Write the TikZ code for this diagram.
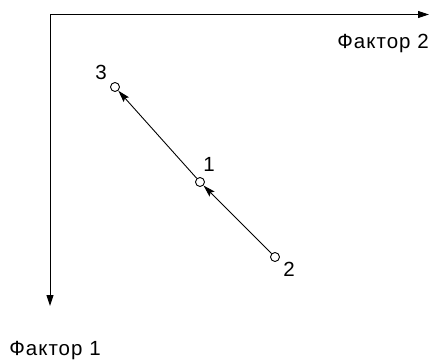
\documentclass[tikz,border=0pt]{standalone}
\usepackage{fontspec}
\setmainfont{Liberation Sans}
\newfontfamily\widefont[LetterSpace=5]{Liberation Sans}
\usetikzlibrary{arrows.meta}
\begin{document}
\begin{tikzpicture}[x=1pt,y=-1pt,
  pt/.style={circle,draw,line width=0.9pt,inner sep=0pt,minimum size=9pt},
  lbl/.style={font=\fontsize{20.5}{24}\selectfont,inner sep=0pt},
  axlbl/.style={font=\widefont\fontsize{20.5}{24}\selectfont,inner sep=0pt},
  axis/.style={line width=1pt,-{Triangle[length=11pt,width=7pt]}},
  con/.style={line width=0.9pt,-{Stealth[length=12pt,width=7pt,inset=2pt]}}]
\useasboundingbox (0,0) rectangle (431,361);
\coordinate (o) at (50,14.5);
\coordinate (xe) at (429,14.5);
\coordinate (ye) at (50,306);
\draw[axis] (o) -- (xe);
\draw[axis] (o) -- (ye);
\node[axlbl] (f2) at (383,43) {Фактор 2};
\node[axlbl] (f1) at (55,351) {Фактор 1};
\node[pt] (p3) at (115,87) {};
\node[pt] (p1) at (200,182) {};
\node[pt] (p2) at (275,257) {};
\node[lbl] (l3) at (101,72) {3};
\node[lbl] (l1) at (209,164) {1};
\node[lbl] (l2) at (289,269) {2};
\draw[con] (p2) -- (p1);
\draw[con] (p1) -- (p3);
\end{tikzpicture}
\end{document}
